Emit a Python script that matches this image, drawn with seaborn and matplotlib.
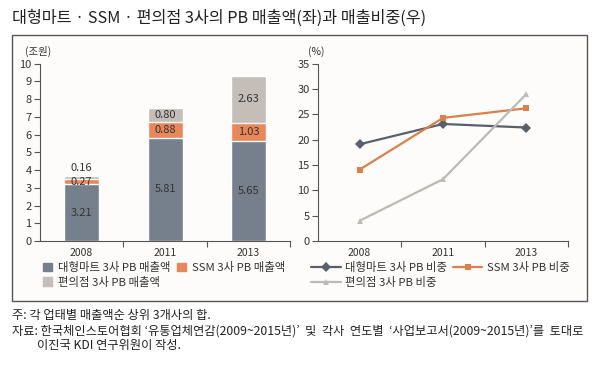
import matplotlib
matplotlib.use("Agg")
import matplotlib.pyplot as plt
from matplotlib.patches import Rectangle
from matplotlib.lines import Line2D
from matplotlib.ticker import FixedLocator
import pandas as pd
import seaborn as sns

# 데이터
years = ["2008", "2011", "2013"]
mart_sales = [3.21, 5.81, 5.65]   # 대형마트 3사 PB 매출액 (조원)
ssm_sales = [0.27, 0.88, 1.03]    # SSM 3사 PB 매출액
cvs_sales = [0.16, 0.80, 2.63]    # 편의점 3사 PB 매출액
mart_share = [19.1, 23.1, 22.4]   # 대형마트 3사 PB 비중 (%)
ssm_share = [14.1, 24.3, 26.2]    # SSM 3사 PB 비중
cvs_share = [4.0, 12.2, 29.0]     # 편의점 3사 PB 비중

bar_labels = ["대형마트 3사 PB 매출액", "SSM 3사 PB 매출액", "편의점 3사 PB 매출액"]
line_labels = ["대형마트 3사 PB 비중", "SSM 3사 PB 비중", "편의점 3사 PB 비중"]

C_DARK = "#76808c"
C_ORANGE = "#e8875a"
C_LIGHT = "#c4bdb8"
L_DARK = "#56616c"
L_ORANGE = "#d9804c"
L_LIGHT = "#bdbab6"
TXT = "#333333"

sns.set_style("white")
plt.rcParams["font.family"] = ["Noto Sans CJK KR", "DejaVu Sans"]

W, H = 600, 379
fig = plt.figure(figsize=(6, 3.79), dpi=100)


def px(x0, y0, x1, y1):
    # 픽셀 좌표(위에서부터) -> figure 분수 좌표
    return [x0 / W, 1 - y1 / H, (x1 - x0) / W, (y1 - y0) / H]


# 바깥 상자 (축 뒤에 그리기)
fig.patches.append(Rectangle((12 / W, 1 - 301 / H), 575 / W, 266 / H,
                             transform=fig.transFigure, fill=True,
                             facecolor="#fdfcfa", edgecolor="#555555", lw=1,
                             zorder=-10))

fig.text(12 / W, 1 - 18 / H, "대형마트 · SSM · 편의점 3사의 PB 매출액(좌)과 매출비중(우)",
         fontsize=11.7, color="#222222", va="center", ha="left")

# ---- 왼쪽: 누적 막대 ----
ax1 = fig.add_axes(px(40, 63.7, 290, 241))
df = pd.DataFrame({"year": years, "mart": mart_sales, "ssm": ssm_sales, "cvs": cvs_sales})
df["total"] = df["mart"] + df["ssm"] + df["cvs"]
df["mid"] = df["mart"] + df["ssm"]

sns.barplot(data=df, x="year", y="total", color=C_LIGHT, width=0.42,
            saturation=1, ax=ax1)
sns.barplot(data=df, x="year", y="mid", color=C_ORANGE, width=0.42,
            saturation=1, ax=ax1)
sns.barplot(data=df, x="year", y="mart", color=C_DARK, width=0.42,
            saturation=1, ax=ax1)

for i, row in df.iterrows():
    ax1.text(i, row["mart"] / 2, f"{row['mart']:.2f}", ha="center", va="center",
             fontsize=8, color=TXT)
    ax1.text(i, row["mart"] + row["ssm"] / 2, f"{row['ssm']:.2f}", ha="center",
             va="center", fontsize=8, color=TXT)
    if row["cvs"] < 0.5:
        ax1.text(i, row["total"] + 0.5, f"{row['cvs']:.2f}", ha="center",
                 va="center", fontsize=8, color=TXT)
    else:
        ax1.text(i, row["mid"] + row["cvs"] / 2, f"{row['cvs']:.2f}", ha="center",
                 va="center", fontsize=8, color=TXT)

ax1.set_ylim(0, 10)
ax1.set_yticks(range(0, 11))
ax1.text(-0.06, 1.07, "(조원)", transform=ax1.transAxes, fontsize=7.5, color=TXT,
         ha="left", va="center")

# ---- 오른쪽: 비중 선 그래프 ----
ax2 = fig.add_axes(px(318, 63.7, 568, 241))
long = pd.DataFrame({
    "year": years * 3,
    "share": mart_share + ssm_share + cvs_share,
    "kind": [line_labels[0]] * 3 + [line_labels[1]] * 3 + [line_labels[2]] * 3,
})
long["pos"] = [0, 1, 2] * 3
sns.lineplot(data=long, x="pos", y="share", hue="kind", style="kind",
             palette=[L_DARK, L_ORANGE, L_LIGHT], markers=["D", "s", "^"],
             dashes=False, markersize=5, markeredgewidth=0, linewidth=1.6,
             legend=False, ax=ax2)
ax2.set_ylim(0, 35)
ax2.set_yticks(range(0, 36, 5))
ax2.text(-0.04, 1.07, "(%)", transform=ax2.transAxes, fontsize=7.5, color=TXT,
         ha="left", va="center")

for ax in (ax1, ax2):
    ax.set_facecolor("none")
    ax.set_xlim(-0.5, 2.5)
    ax.set_xlabel("")
    ax.set_ylabel("")
    for s in ("top", "right"):
        ax.spines[s].set_visible(False)
    for s in ("left", "bottom"):
        ax.spines[s].set_color("#555555")
        ax.spines[s].set_linewidth(0.8)
    ax.xaxis.set_major_locator(FixedLocator([0.5, 1.5, 2.5]))
    ax.xaxis.set_minor_locator(FixedLocator([0, 1, 2]))
    ax.set_xticklabels([])
    ax.set_xticklabels(years, minor=True)
    ax.tick_params(axis="x", which="major", length=4, direction="out",
                   color="#555555", bottom=True)
    ax.tick_params(axis="x", which="minor", length=0, labelsize=7.5,
                   labelcolor=TXT, pad=5)
    ax.tick_params(axis="y", length=4, direction="out", color="#555555",
                   left=True, labelsize=8, labelcolor=TXT, pad=2)

# 범례
bar_handles = [Rectangle((0, 0), 1, 1, color=c) for c in (C_DARK, C_ORANGE, C_LIGHT)]
order = [0, 2, 1]
fig.legend([bar_handles[i] for i in order], [bar_labels[i] for i in order],
           loc="upper left", bbox_to_anchor=(43 / W, 1 - 262 / H), ncol=2,
           frameon=False, fontsize=8.2, handlelength=0.8, handleheight=0.8,
           handletextpad=0.5, columnspacing=0.6, labelspacing=0.3,
           borderaxespad=0, borderpad=0, labelcolor=TXT)

line_handles = [
    Line2D([], [], color=L_DARK, marker="D", markersize=5, lw=1.6, markeredgewidth=0),
    Line2D([], [], color=L_ORANGE, marker="s", markersize=5, lw=1.6, markeredgewidth=0),
    Line2D([], [], color=L_LIGHT, marker="^", markersize=5, lw=1.6, markeredgewidth=0),
]
fig.legend([line_handles[i] for i in order], [line_labels[i] for i in order],
           loc="upper left", bbox_to_anchor=(311 / W, 1 - 262 / H), ncol=2,
           frameon=False, fontsize=8.2, handlelength=2.6,
           handletextpad=0.4, columnspacing=0.5, labelspacing=0.3,
           borderaxespad=0, borderpad=0, labelcolor=TXT)

# 주석
fig.text(12 / W, 1 - 316 / H, "주: 각 업태별 매출액순 상위 3개사의 합.",
         fontsize=8.8, color="#222222", va="center")
fig.text(12 / W, 1 - 331 / H,
         "자료: 한국체인스토어협회 ‘유통업체연감(2009~2015년)’  및  각사  연도별  ‘사업보고서(2009~2015년)’를  토대로",
         fontsize=8.8, color="#222222", va="center")
fig.text(37 / W, 1 - 346 / H, "이진국 KDI 연구위원이 작성.",
         fontsize=8.8, color="#222222", va="center")

fig.savefig("out.png", dpi=100)
